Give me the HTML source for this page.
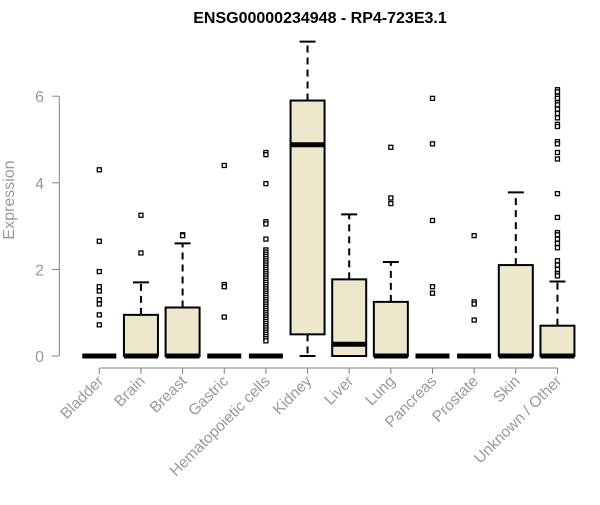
<!DOCTYPE html>
<html><head><meta charset="utf-8"><style>body{margin:0;background:#fff}svg{font-family:"Liberation Sans",sans-serif}</style></head>
<body>
<svg id="c" width="600" height="500"></svg>
<script>
const categories=["Bladder","Brain","Breast","Gastric","Hematopoietic cells","Kidney","Liver","Lung","Pancreas","Prostate","Skin","Unknown / Other"];
const q1=[0,0,0,0,0,0.5,0,0,0,0,0,0];
const medians=[0,0,0,0,0,4.88,0.27,0,0,0,0,0];
const q3=[0,0.95,1.12,0,0,5.9,1.77,1.25,0,0,2.1,0.7];
const whiskLo=[0,0,0,0,0,0,0,0,0,0,0,0];
const whiskHi=[0,1.7,2.6,0,0,7.26,3.27,2.17,0,0,3.78,1.72];
const outliers=[
[4.3,2.65,1.95,1.6,1.5,1.3,1.2,0.95,0.72],
[3.25,2.38],
[2.8,2.78],
[4.4,1.65,1.6,0.9],
[4.7,4.65,3.98,3.1,3.05,2.7,2.45,2.4,2.35,2.3,2.25,2.2,2.15,2.1,2.05,2.0,1.95,1.9,1.85,1.8,1.75,1.7,1.65,1.6,1.55,1.5,1.45,1.4,1.35,1.3,1.25,1.2,1.15,1.1,1.05,1.0,0.95,0.9,0.85,0.8,0.75,0.7,0.65,0.6,0.55,0.5,0.45,0.4,0.35],
[],
[],
[4.82,3.65,3.52],
[5.95,4.9,3.13,1.6,1.45],
[2.78,1.25,1.2,0.83],
[],
[6.15,6.1,6.0,5.95,5.85,5.8,5.7,5.6,5.5,5.35,5.3,4.95,4.9,4.7,4.55,3.75,3.2,2.85,2.8,2.7,2.6,2.5,2.2,2.1,2.0,1.9,1.85]
];
const yTicks=[0,2,4,6];
const svg=document.getElementById('c');const NS='http://www.w3.org/2000/svg';
const y=v=>356-v*43.3;const x=i=>99.3+i*41.65;const hw=17;
function mk(t,a,p){const e=document.createElementNS(NS,t);for(const k in a)e.setAttribute(k,a[k]);(p||svg).appendChild(e);return e;}
let t=mk('text',{x:320,y:23,'text-anchor':'middle','font-weight':'bold','font-size':16});t.textContent='ENSG00000234948 - RP4-723E3.1';

t=mk('text',{x:0,y:0,transform:'translate(14,200) rotate(-90)','text-anchor':'middle','font-size':16,fill:'#999'});t.textContent='Expression';

let ax=mk('path',{d:`M59.3 ${y(0)}V${y(6)}`,stroke:'#808080',fill:'none'});

yTicks.forEach(v=>{mk('path',{d:`M52 ${y(v)}H59.3`,stroke:'#808080'});
const l=mk('text',{x:44,y:y(v)+6,'text-anchor':'end','font-size':16,fill:'#999'});l.textContent=v;
});
ax=mk('path',{d:`M${x(0)} 368H${x(11)}`,stroke:'#808080'});

categories.forEach((c,i)=>{const cx=x(i);
mk('path',{d:`M${cx} 368V374`,stroke:'#808080'});
const l=mk('text',{x:0,y:0,transform:`translate(${cx+5},382) rotate(-45)`,'text-anchor':'end','font-size':15.5,fill:'#999'});l.textContent=c;

const g=mk('g',{});
if(whiskHi[i]>q3[i]){mk('path',{d:`M${cx} ${y(q3[i])}V${y(whiskHi[i])}`,stroke:'#000','stroke-width':2,'stroke-dasharray':'7,5'},g);
mk('path',{d:`M${cx-8} ${y(whiskHi[i])}H${cx+8}`,stroke:'#000','stroke-width':2},g);}
if(whiskLo[i]<q1[i]){mk('path',{d:`M${cx} ${y(q1[i])}V${y(whiskLo[i])}`,stroke:'#000','stroke-width':2,'stroke-dasharray':'7,5'},g);
mk('path',{d:`M${cx-8} ${y(whiskLo[i])}H${cx+8}`,stroke:'#000','stroke-width':2},g);}
if(q3[i]>q1[i])mk('rect',{x:cx-hw,y:y(q3[i]),width:2*hw,height:y(q1[i])-y(q3[i]),fill:'#ede7cc',stroke:'#000','stroke-width':2},g);
mk('path',{d:`M${cx-hw} ${y(medians[i])}H${cx+hw}`,stroke:'#000','stroke-width':5},g);
outliers[i].forEach(v=>{mk('rect',{x:cx-2,y:y(v)-2,width:4,height:4,fill:'#fff',stroke:'#000','stroke-width':1.3},g);});
});
</script>
</body></html>
